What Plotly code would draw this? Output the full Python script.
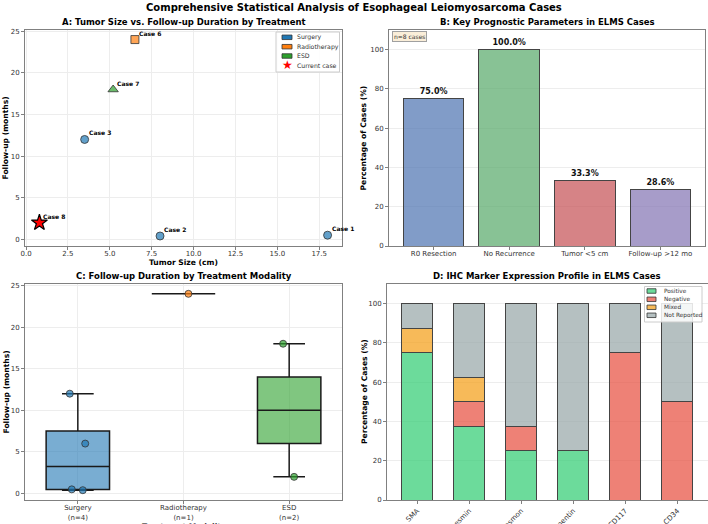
import numpy as np
import plotly.graph_objects as go

# ---------------- DATA ----------------
# Panel A
case_labels = ["Case 1", "Case 2", "Case 3", "Case 6", "Case 7", "Case 8"]
tumor_size = [18.0, 8.0, 3.5, 6.5, 5.2, 0.8]
followup = [0.5, 0.4, 12.0, 24.0, 18.0, 2.0]
case_group = ["Surgery", "Surgery", "Surgery", "Radiotherapy", "ESD", "Current case"]
treatments = ["Surgery", "Radiotherapy", "ESD"]
current_label = "Current case"

# Panel B
params = ["R0 Resection", "No Recurrence", "Tumor <5 cm", "Follow-up >12 mo"]
param_pct = [75.0, 100.0, 33.3, 28.6]

# Panel C
box_groups = ["Surgery", "Radiotherapy", "ESD"]
box_labels = ["Surgery<br>(n=4)", "Radiotherapy<br>(n=1)", "ESD<br>(n=2)"]
box_values = {
    "Surgery": [0.5, 0.4, 12.0, 6.0],
    "Radiotherapy": [24.0],
    "ESD": [18.0, 2.0],
}

# Panel D
markers = ["SMA", "Desmin", "Caldesmon", "Vimentin", "CD117", "CD34"]
ihc_categories = ["Positive", "Negative", "Mixed", "Not Reported"]
ihc_positive = [75.0, 37.5, 25.0, 25.0, 0.0, 0.0]
ihc_negative = [0.0, 12.5, 12.5, 0.0, 75.0, 50.0]
ihc_mixed = [12.5, 12.5, 0.0, 0.0, 0.0, 0.0]
ihc_not_reported = [12.5, 37.5, 62.5, 75.0, 25.0, 50.0]

# ---------------- STYLE ----------------
FONT = "DejaVu Sans"
W, H = 708, 524
tab_fill = {"Surgery": "rgba(31,119,180,0.7)", "Radiotherapy": "rgba(255,127,14,0.7)", "ESD": "rgba(44,160,44,0.7)"}
tab_solid = {"Surgery": "#1f77b4", "Radiotherapy": "#ff7f0e", "ESD": "#2ca02c"}
box_fill = {"Surgery": "rgba(31,119,180,0.6)", "Radiotherapy": "rgba(255,127,14,0.6)", "ESD": "rgba(44,160,44,0.6)"}
symbols = {"Surgery": "circle", "Radiotherapy": "square", "ESD": "triangle-up"}
msize = {"Surgery": 8, "Radiotherapy": 8, "ESD": 9}
b_colors = ["rgba(76,114,176,0.7)", "rgba(85,168,104,0.7)", "rgba(196,78,82,0.7)", "rgba(129,114,178,0.7)"]
d_colors = {"Positive": "rgba(46,204,113,0.7)", "Negative": "rgba(231,76,60,0.7)",
            "Mixed": "rgba(243,156,18,0.7)", "Not Reported": "rgba(149,165,166,0.7)"}


def px_x(p):
    return p / W


def px_y(p):
    return 1 - p / H


fig = go.Figure()

# ---------------- Panel A ----------------
for t in treatments:
    idx = [i for i, g in enumerate(case_group) if g == t]
    fig.add_trace(go.Scatter(
        x=[tumor_size[i] for i in idx], y=[followup[i] for i in idx], mode="markers", name=t,
        marker=dict(symbol=symbols[t], size=msize[t], color=tab_fill[t],
                    line=dict(color="#333333", width=0.8)),
        showlegend=False, xaxis="x", yaxis="y", cliponaxis=False))
idx = [i for i, g in enumerate(case_group) if g == current_label]
fig.add_trace(go.Scatter(
    x=[tumor_size[i] for i in idx], y=[followup[i] for i in idx], mode="markers", name=current_label,
    marker=dict(symbol="star", size=12, color="red", line=dict(color="black", width=1.2)),
    xaxis="x", yaxis="y", showlegend=False, cliponaxis=False))

for i, lab in enumerate(case_labels):
    fig.add_annotation(x=tumor_size[i], y=followup[i], xref="x", yref="y", text="<b>%s</b>" % lab,
                       showarrow=False, xanchor="left", yanchor="bottom", xshift=2, yshift=1,
                       font=dict(family=FONT, size=6, color="black"))

# ---------------- Panel B ----------------
fig.add_trace(go.Bar(
    x=list(range(len(params))), y=param_pct, width=0.8,
    marker=dict(color=b_colors, line=dict(color="#444444", width=1)),
    text=["<b>%.1f%%</b>" % v for v in param_pct], textposition="outside",
    textfont=dict(family=FONT, size=8, color="#111"), cliponaxis=False,
    xaxis="x2", yaxis="y2", showlegend=False))

# ---------------- Panel C ----------------
for k, g in enumerate(box_groups):
    vals = np.array(box_values[g])
    q1, med, q3 = np.percentile(vals, [25, 50, 75])
    iqr = q3 - q1
    lo = vals[vals >= q1 - 1.5 * iqr].min()
    hi = vals[vals <= q3 + 1.5 * iqr].max()
    fig.add_trace(go.Box(
        x=[k + 1], q1=[q1], median=[med], q3=[q3], lowerfence=[lo], upperfence=[hi],
        width=0.6, whiskerwidth=0.5, fillcolor=box_fill[g], line=dict(color="#1a1a1a", width=1.5),
        xaxis="x3", yaxis="y3", showlegend=False, boxpoints=False))
    # individual observations, jittered
    fig.add_trace(go.Box(
        x=[k + 1] * len(vals), y=vals, width=0.6, boxpoints="all", jitter=0.3, pointpos=0,
        fillcolor="rgba(0,0,0,0)", line=dict(color="rgba(0,0,0,0)", width=0),
        marker=dict(color=tab_fill[g], size=7, line=dict(color="#333", width=0.8)),
        xaxis="x3", yaxis="y3", showlegend=False))

# ---------------- Panel D ----------------
ihc_values = [ihc_positive, ihc_negative, ihc_mixed, ihc_not_reported]
for name, vals in zip(ihc_categories, ihc_values):
    fig.add_trace(go.Bar(
        x=list(range(len(markers))), y=vals, width=0.6, name=name,
        marker=dict(color=d_colors[name], line=dict(color="#444444", width=1)),
        xaxis="x4", yaxis="y4", showlegend=False))

# ---------------- Layout ----------------
tick_font = dict(family=FONT, size=7, color="#333")
title_font = dict(family=FONT, size=7.6, color="black")
axis_common = dict(showline=True, mirror=True, linecolor="#808080", linewidth=1, ticks="outside",
                   ticklen=3, tickcolor="#808080", tickfont=tick_font, zeroline=False,
                   gridcolor="#ededed", gridwidth=1, automargin=False)

xA = [px_x(25), px_x(342)]
xB = [px_x(389), px_x(705)]
xC = xA
xD = [px_x(387), px_x(707.5)]
yTop = [px_y(246), px_y(30)]
yBot = [px_y(500), px_y(284)]

fig.update_layout(
    width=W, height=H, margin=dict(l=0, r=0, t=0, b=0, autoexpand=False),
    paper_bgcolor="white", plot_bgcolor="white", barmode="stack", boxmode="overlay", showlegend=False,
    font=dict(family=FONT, size=7, color="#333"),
    xaxis=dict(domain=xA, anchor="y", range=[-0.06, 18.86], dtick=2.5, tick0=0, tickformat=".1f",
               showgrid=True, ticklabelstandoff=-2, **axis_common),
    yaxis=dict(domain=yTop, anchor="x", range=[-0.8, 25.15], dtick=5, showgrid=True, **axis_common),
    xaxis2=dict(domain=xB, anchor="y2", range=[-0.59, 3.59], tickvals=list(range(len(params))),
                ticktext=params, showgrid=False, ticklabelstandoff=-2, **axis_common),
    yaxis2=dict(domain=yTop, anchor="x2", range=[0, 110], tickvals=[0, 20, 40, 60, 80, 100], showgrid=True,
                **axis_common),
    xaxis3=dict(domain=xC, anchor="y3", range=[0.5, 3.5], tickvals=[1, 2, 3], ticktext=box_labels,
                showgrid=True, ticklabelstandoff=-2, **axis_common),
    yaxis3=dict(domain=yBot, anchor="x3", range=[-0.78, 25.18], dtick=5, showgrid=True, **axis_common),
    xaxis4=dict(domain=xD, anchor="y4", range=[-0.58, 5.58], tickvals=list(range(len(markers))),
                ticktext=markers, tickangle=-45, showgrid=False, **axis_common),
    yaxis4=dict(domain=yBot, anchor="x4", range=[0, 110], tickvals=[0, 20, 40, 60, 80, 100], showgrid=True,
                **axis_common),
)

# Axis titles (placed like the matplotlib original)
def axis_title(text, x, y, angle=0, anchor_y="middle"):
    fig.add_annotation(x=px_x(x), y=px_y(y), xref="paper", yref="paper", showarrow=False,
                       xanchor="center", yanchor=anchor_y, textangle=angle, text="<b>%s</b>" % text,
                       font=title_font)


axis_title("Tumor Size (cm)", (25 + 342) / 2, 262)
axis_title("Follow-up (months)", 5.5, (30 + 246) / 2, -90)
axis_title("Percentage of Cases (%)", 363.5, (30 + 246) / 2, -90)
axis_title("Treatment Modality", (25 + 342) / 2, 519.5, anchor_y="top")
axis_title("Follow-up (months)", 5.5, (284 + 500) / 2, -90)
axis_title("Percentage of Cases (%)", 364, (284 + 500) / 2, -90)

# Titles
fig.add_annotation(x=0.5, y=px_y(7), xref="paper", yref="paper", showarrow=False, xanchor="center",
                   yanchor="middle",
                   text="<b>Comprehensive Statistical Analysis of Esophageal Leiomyosarcoma Cases</b>",
                   font=dict(family=FONT, size=10, color="black"))
for (xd, yc, txt) in [(xA, 22, "A: Tumor Size vs. Follow-up Duration by Treatment"),
                      (xB, 22, "B: Key Prognostic Parameters in ELMS Cases"),
                      (xC, 276, "C: Follow-up Duration by Treatment Modality"),
                      (xD, 276, "D: IHC Marker Expression Profile in ELMS Cases")]:
    fig.add_annotation(x=(xd[0] + xd[1]) / 2, y=px_y(yc), xref="paper", yref="paper", showarrow=False,
                       xanchor="center", yanchor="middle", text="<b>%s</b>" % txt,
                       font=dict(family=FONT, size=8.5, color="black"))

fig.add_annotation(x=px_x(392), y=px_y(31.5), xref="paper", yref="paper", xanchor="left", yanchor="top",
                   showarrow=False, text="n=8 cases", font=dict(family=FONT, size=6, color="#333"),
                   bgcolor="rgba(245,222,179,0.5)", bordercolor="#a0a0a0", borderwidth=1, borderpad=1)


# ---------------- Manual legends (compact, matplotlib-like) ----------------
def add_legend(box, items, patch_x, text_x, y_centers, patch_w, patch_h, fsize):
    x0, y0, x1, y1 = box
    fig.add_shape(type="rect", xref="paper", yref="paper", x0=px_x(x0), x1=px_x(x1), y0=px_y(y1), y1=px_y(y0),
                  line=dict(color="#cccccc", width=1), fillcolor="rgba(255,255,255,0.85)", layer="above")
    for (label, color, kind), yc in zip(items, y_centers):
        if kind == "patch":
            fig.add_shape(type="rect", xref="paper", yref="paper",
                          x0=px_x(patch_x), x1=px_x(patch_x + patch_w),
                          y0=px_y(yc + patch_h / 2), y1=px_y(yc - patch_h / 2),
                          line=dict(color="#333333", width=0.8), fillcolor=color, layer="above")
        else:
            fig.add_annotation(x=px_x(patch_x + patch_w / 2), y=px_y(yc), xref="paper", yref="paper",
                               text="★", showarrow=False, xanchor="center", yanchor="middle",
                               font=dict(family=FONT, size=12, color="red"))
        fig.add_annotation(x=px_x(text_x), y=px_y(yc), xref="paper", yref="paper", text=label,
                           showarrow=False, xanchor="left", yanchor="middle",
                           font=dict(family=FONT, size=fsize, color="#333"))


legA_items = [(t, tab_solid[t], "patch") for t in treatments] + [(current_label, "red", "star")]
add_legend((276, 32, 339.5, 72), legA_items, 282, 295, [37.3, 46.7, 56.0, 65.3], 10, 4.5, 6.2)

legD_items = [(c, d_colors[c], "patch") for c in ihc_categories]
add_legend((644.5, 286.5, 702, 322), legD_items, 647, 662, [291.0, 299.3, 307.3, 315.3], 9, 4.5, 5.8)

fig.write_html("out.html")
